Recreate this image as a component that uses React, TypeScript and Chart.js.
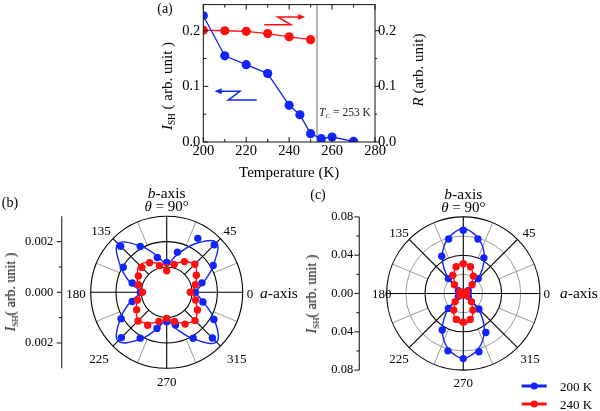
import React, { useEffect, useRef } from 'react';
import { Chart, registerables } from 'chart.js';
Chart.register(...registerables);

const FONT = "'Liberation Serif', 'Times New Roman', serif";
const BLUE = '#1024ff';
const RED = '#ff1010';

// ---------- Panel (a) data ----------
const tempISH = [200, 210, 220, 230, 240, 245, 250, 255, 260, 270];
const valueISH = [0.227, 0.155, 0.139, 0.123, 0.066, 0.049, 0.015, 0.006, 0.009, 0.001];
const tempR = [200, 210, 220, 230, 240, 250];
const valueR = [0.201, 0.200, 0.199, 0.195, 0.189, 0.184];
const TC = 253;

// ---------- Panels (b), (c) data ----------
const anglesDeg = [0, 15, 30, 45, 60, 75, 90, 105, 120, 135, 150, 165, 180, 195, 210, 225, 240, 255, 270, 285, 300, 315, 330, 345];
const fineAnglesDeg = [0, 7.5, 15, 22.5, 30, 37.5, 45, 52.5, 60, 67.5, 75, 82.5, 90, 97.5, 105, 112.5, 120, 127.5, 135, 142.5, 150, 157.5, 165, 172.5,
  180, 187.5, 195, 202.5, 210, 217.5, 225, 232.5, 240, 247.5, 255, 262.5, 270, 277.5, 285, 292.5, 300, 307.5, 315, 322.5, 330, 337.5, 345, 352.5];

const b200 = [0.00113, 0.00144, 0.00212, 0.00265, 0.00246, 0.00164, 0.00118, 0.00142, 0.00209, 0.00257, 0.00198, 0.00141,
  0.00104, 0.00141, 0.00208, 0.00253, 0.00209, 0.00148, 0.00116, 0.00134, 0.00209, 0.00255, 0.00215, 0.00148];
const b240 = [0.00093, 0.00117, 0.00135, 0.00157, 0.00140, 0.00114, 0.00085, 0.00109, 0.00135, 0.00139, 0.00129, 0.00115,
  0.00096, 0.00119, 0.00137, 0.00160, 0.00150, 0.00119, 0.00103, 0.00119, 0.00145, 0.00158, 0.00140, 0.00118];
const b200Fit = [0.00110, 0.00150, 0.00212, 0.00278, 0.00220, 0.00152, 0.00112, 0.00150, 0.00212, 0.00272, 0.00212, 0.00150,
  0.00106, 0.00150, 0.00212, 0.00272, 0.00215, 0.00150, 0.00112, 0.00150, 0.00212, 0.00278, 0.00218, 0.00150];
const b240Fit = [0.00102, 0.00118, 0.00136, 0.00157, 0.00138, 0.00118, 0.00108, 0.00118, 0.00136, 0.00152, 0.00134, 0.00118,
  0.00100, 0.00120, 0.00138, 0.00158, 0.00140, 0.00120, 0.00106, 0.00120, 0.00140, 0.00158, 0.00138, 0.00118];

const c200 = [0.002, 0.003, 0.006, 0.022, 0.043, 0.059, 0.066, 0.059, 0.045, 0.022, 0.006, 0.003,
  0.002, 0.003, 0.006, 0.022, 0.044, 0.062, 0.068, 0.063, 0.047, 0.023, 0.006, 0.003];
const c240 = [0.001, 0.002, 0.004, 0.013, 0.021, 0.029, 0.031, 0.029, 0.022, 0.013, 0.004, 0.002,
  0.001, 0.002, 0.004, 0.012, 0.020, 0.028, 0.030, 0.028, 0.020, 0.012, 0.004, 0.002];
const c200Fit = [0.0015, 0.0015, 0.0012, 0.0006, 0, 0.008, 0.021, 0.033, 0.044, 0.053, 0.060, 0.065,
  0.068, 0.065, 0.060, 0.053, 0.044, 0.033, 0.021, 0.008, 0, 0.0006, 0.0012, 0.0015,
  0.0015, 0.0015, 0.0012, 0.0006, 0, 0.008, 0.021, 0.033, 0.044, 0.053, 0.060, 0.065,
  0.068, 0.065, 0.060, 0.053, 0.044, 0.033, 0.021, 0.008, 0, 0.0006, 0.0012, 0.0015];
const c240Fit = [0.0008, 0.0008, 0.0006, 0.0003, 0, 0.004, 0.010, 0.015, 0.020, 0.025, 0.028, 0.031,
  0.032, 0.031, 0.028, 0.025, 0.020, 0.015, 0.010, 0.004, 0, 0.0003, 0.0006, 0.0008,
  0.0008, 0.0008, 0.0006, 0.0003, 0, 0.004, 0.010, 0.015, 0.020, 0.025, 0.028, 0.031,
  0.032, 0.031, 0.028, 0.025, 0.020, 0.015, 0.010, 0.004, 0, 0.0003, 0.0006, 0.0008];

const bTicks = [-0.002, 0, 0.002];
const bMinorTicks = [-0.001, 0.001];
const cTicks = [-0.08, -0.04, 0, 0.04, 0.08];
const cMinorTicks = [-0.06, -0.02, 0.02, 0.06];

const toXY = (angles: number[], rs: number[], close: boolean) => {
  const pts = rs.map((r, i) => ({ x: r * Math.cos((angles[i] * Math.PI) / 180), y: r * Math.sin((angles[i] * Math.PI) / 180) }));
  if (close) pts.push({ ...pts[0] });
  return pts;
};

function line(ctx: CanvasRenderingContext2D, x1: number, y1: number, x2: number, y2: number) {
  ctx.beginPath();
  ctx.moveTo(x1, y1);
  ctx.lineTo(x2, y2);
  ctx.stroke();
}

const noPad = (s: any) => { s.paddingTop = 0; s.paddingBottom = 0; s.paddingLeft = 0; s.paddingRight = 0; };

// ---------- Panel (a) plugin ----------
const redArrow = [[228.4, 0.2106], [240.9, 0.2106], [234.7, 0.2247], [246.5, 0.2247]];
const blueArrow = [[224.9, 0.0753], [211.6, 0.0753], [217.1, 0.0912], [206.2, 0.0912]];

const panelAPlugin = {
  id: 'panelA',
  beforeDatasetsDraw(chart: any) {
    const { ctx, chartArea: a, scales } = chart;
    const x = scales.x.getPixelForValue(TC);
    ctx.save();
    ctx.strokeStyle = '#b4b4b4';
    ctx.lineWidth = 2;
    line(ctx, x, a.top, x, a.bottom);
    ctx.restore();
  },
  afterDatasetsDraw(chart: any) {
    const { ctx, chartArea: a, scales } = chart;
    const { x, y, y2 } = scales;
    ctx.save();
    ctx.strokeStyle = '#111';
    ctx.lineWidth = 1;
    ctx.strokeRect(a.left, a.top, a.right - a.left, a.bottom - a.top);
    for (let t = 200; t <= 280; t += 10) {
      const px = x.getPixelForValue(t);
      const len = t % 20 === 0 ? 5 : 3;
      line(ctx, px, a.bottom, px, a.bottom - len);
      line(ctx, px, a.top, px, a.top + len);
    }
    for (let k = 0; k <= 4; k++) {
      const v = k * 0.05;
      const len = k % 2 === 0 ? 5 : 3;
      const py = y.getPixelForValue(v);
      line(ctx, a.left, py, a.left + len, py);
      const py2 = y2.getPixelForValue(v);
      line(ctx, a.right, py2, a.right + (k % 2 === 0 ? 4 : 2), py2);
    }
    const drawArrow = (pts: number[][], color: string) => {
      const p = pts.map(([tx, vy]) => [x.getPixelForValue(tx), y.getPixelForValue(vy)]);
      ctx.strokeStyle = color;
      ctx.fillStyle = color;
      ctx.lineWidth = 1.5;
      ctx.beginPath();
      ctx.moveTo(p[0][0], p[0][1]);
      for (let i = 1; i < p.length; i++) ctx.lineTo(p[i][0], p[i][1]);
      ctx.stroke();
      const [ex, ey] = p[p.length - 1];
      const dir = Math.sign(p[p.length - 1][0] - p[p.length - 2][0]);
      ctx.beginPath();
      ctx.moveTo(ex + dir * 2, ey);
      ctx.lineTo(ex - dir * 5, ey - 3);
      ctx.lineTo(ex - dir * 5, ey + 3);
      ctx.closePath();
      ctx.fill();
    };
    drawArrow(redArrow, RED);
    drawArrow(blueArrow, BLUE);
    ctx.restore();
  },
};

function makeA(): any {
  const tickFont = { family: FONT, size: 14.5 };
  return {
    type: 'scatter',
    data: {
      datasets: [
        {
          data: tempISH.map((t, i) => ({ x: t, y: valueISH[i] })),
          showLine: true, borderColor: BLUE, backgroundColor: BLUE, borderWidth: 1.3,
          pointRadius: 4.6, pointBorderWidth: 0, yAxisID: 'y',
        },
        {
          data: tempR.map((t, i) => ({ x: t, y: valueR[i] })),
          showLine: true, borderColor: RED, backgroundColor: RED, borderWidth: 1.3,
          pointRadius: 4.6, pointBorderWidth: 0, yAxisID: 'y2',
        },
      ],
    },
    options: {
      responsive: false,
      animation: false,
      layout: { padding: { top: 2, left: 0, right: 0, bottom: 0 } },
      plugins: { legend: { display: false }, tooltip: { enabled: false } },
      scales: {
        x: {
          type: 'linear', min: 200, max: 280,
          ticks: { stepSize: 20, font: tickFont, color: '#000', padding: 0, maxRotation: 0 },
          grid: { display: false, drawTicks: false }, border: { display: false },
          title: { display: true, text: 'Temperature (K)', font: { family: FONT, size: 15 }, color: '#000', padding: { top: 0, bottom: 8 } },
          afterFit: (s: any) => { s.height = 48; noPad(s); },
        },
        y: {
          position: 'left', min: 0, max: 0.247,
          ticks: { stepSize: 0.1, includeBounds: false, font: tickFont, color: '#000', padding: 3, callback: (v: any) => Number(v).toFixed(1) },
          grid: { display: false, drawTicks: false }, border: { display: false },
          afterFit: (s: any) => { s.width = 203.3; noPad(s); },
        },
        y2: {
          position: 'right', min: 0, max: 0.247,
          ticks: { stepSize: 0.1, includeBounds: false, font: tickFont, color: '#000', padding: 3, callback: (v: any) => Number(v).toFixed(1) },
          grid: { display: false, drawTicks: false }, border: { display: false },
          afterFit: (s: any) => { s.width = 225; noPad(s); },
        },
      },
    },
    plugins: [panelAPlugin],
  };
}

// ---------- Polar panels ----------
type PolarCfg = {
  R: number;
  rings: { r: number; color: string }[];
  blackSpokeFrom: number;
  graySpokeFrom: number;
  axisOffset: number;
  majors: number[];
  minors: number[];
  legend?: boolean;
};

function polarPlugin(cfg: PolarCfg) {
  return {
    id: 'polarGrid',
    beforeDatasetsDraw(chart: any) {
      const { ctx, scales: { x, y } } = chart;
      const cx = x.getPixelForValue(0);
      const cy = y.getPixelForValue(0);
      const px = (r: number) => x.getPixelForValue(r) - cx;
      ctx.save();
      ctx.lineWidth = 1;
      ctx.strokeStyle = '#9a9a9a';
      for (let a = 22.5; a < 360; a += 45) {
        const t = (a * Math.PI) / 180;
        const r0 = px(cfg.graySpokeFrom), r1 = px(cfg.R);
        line(ctx, cx + r0 * Math.cos(t), cy - r0 * Math.sin(t), cx + r1 * Math.cos(t), cy - r1 * Math.sin(t));
      }
      for (const ring of cfg.rings) {
        ctx.strokeStyle = ring.color;
        ctx.lineWidth = ring.color === '#000' ? 1.1 : 1;
        ctx.beginPath();
        ctx.arc(cx, cy, px(ring.r), 0, Math.PI * 2);
        ctx.stroke();
      }
      ctx.strokeStyle = '#000';
      ctx.lineWidth = 1.1;
      for (let a = 0; a < 360; a += 45) {
        const t = (a * Math.PI) / 180;
        const r0 = px(cfg.blackSpokeFrom), r1 = px(cfg.R);
        line(ctx, cx + r0 * Math.cos(t), cy - r0 * Math.sin(t), cx + r1 * Math.cos(t), cy - r1 * Math.sin(t));
      }
      ctx.restore();
    },
    afterDraw(chart: any) {
      const { ctx, chartArea: a, scales: { y } } = chart;
      const ax = a.left - cfg.axisOffset;
      ctx.save();
      ctx.strokeStyle = '#333';
      ctx.lineWidth = 1.2;
      line(ctx, ax, y.getPixelForValue(cfg.R), ax, y.getPixelForValue(-cfg.R));
      for (const v of cfg.majors) { const py = y.getPixelForValue(v); line(ctx, ax, py, ax - 5, py); }
      for (const v of cfg.minors) { const py = y.getPixelForValue(v); line(ctx, ax, py, ax - 3, py); }
      if (cfg.legend) {
        const items = [{ c: BLUE, yy: 196 }, { c: RED, yy: 214 }];
        for (const it of items) {
          ctx.strokeStyle = it.c;
          ctx.fillStyle = it.c;
          ctx.lineWidth = 3;
          line(ctx, 221.7, it.yy, 246.7, it.yy);
          ctx.beginPath();
          ctx.arc(234.2, it.yy, 3.6, 0, Math.PI * 2);
          ctx.fill();
        }
      }
      ctx.restore();
    },
  };
}

function makePolar(opts: {
  cfg: PolarCfg; fit200: any[]; pts200: any[]; fit240: any[]; pts240: any[];
  pad: { left: number; right: number; top: number; bottom: number }; axisWidth: number; labelPad: number; decimals: number;
}): any {
  const { cfg } = opts;
  const common = { showLine: true, pointRadius: 0, borderWidth: 1.4, tension: 0.4 };
  return {
    type: 'scatter',
    data: {
      datasets: [
        { ...common, data: opts.fit240, borderColor: RED, backgroundColor: RED },
        { data: opts.pts240, showLine: false, pointRadius: 3.7, pointBorderWidth: 0, backgroundColor: RED, borderColor: RED },
        { ...common, data: opts.fit200, borderColor: BLUE, backgroundColor: BLUE },
        { data: opts.pts200, showLine: false, pointRadius: 3.7, pointBorderWidth: 0, backgroundColor: BLUE, borderColor: BLUE },
      ],
    },
    options: {
      responsive: false,
      animation: false,
      layout: { padding: { left: 0, right: opts.pad.right, top: opts.pad.top, bottom: opts.pad.bottom } },
      plugins: { legend: { display: false }, tooltip: { enabled: false } },
      scales: {
        x: { type: 'linear', min: -cfg.R, max: cfg.R, display: false, afterFit: noPad },
        y: {
          type: 'linear', min: -cfg.R, max: cfg.R,
          afterBuildTicks: (s: any) => { s.ticks = cfg.majors.map((v) => ({ value: v })); },
          ticks: { font: { family: FONT, size: 12.5 }, color: '#000', padding: opts.labelPad, callback: (v: any) => Math.abs(Number(v)).toFixed(opts.decimals) },
          grid: { display: false, drawTicks: false }, border: { display: false },
          afterFit: (s: any) => { s.width = opts.axisWidth; noPad(s); },
        },
      },
    },
    plugins: [polarPlugin(cfg)],
  };
}

function makeB(): any {
  return makePolar({
    cfg: {
      R: 0.003,
      rings: [{ r: 0.001, color: '#000' }, { r: 0.002, color: '#000' }, { r: 0.003, color: '#000' }],
      blackSpokeFrom: 0.001, graySpokeFrom: 0.002, axisOffset: 29,
      majors: bTicks, minors: bMinorTicks,
    },
    fit200: toXY(anglesDeg, b200Fit, true),
    pts200: toXY(anglesDeg, b200, false),
    fit240: toXY(anglesDeg, b240Fit, true),
    pts240: toXY(anglesDeg, b240, false),
    pad: { left: 0, right: 57.3, top: 26.3, bottom: 42.7 },
    axisWidth: 90.7, labelPad: 37.5, decimals: 3,
  });
}

function makeC(): any {
  return makePolar({
    cfg: {
      R: 0.08,
      rings: [{ r: 0.02, color: '#9a9a9a' }, { r: 0.06, color: '#9a9a9a' }, { r: 0.04, color: '#000' }, { r: 0.08, color: '#000' }],
      blackSpokeFrom: 0, graySpokeFrom: 0.04, axisOffset: 27.4,
      majors: cTicks, minors: cMinorTicks, legend: true,
    },
    fit200: toXY(fineAnglesDeg, c200Fit, true),
    pts200: toXY(anglesDeg, c200, false),
    fit240: toXY(fineAnglesDeg, c240Fit, true),
    pts240: toXY(anglesDeg, c240, false),
    pad: { left: 0, right: 60.1, top: 26.9, bottom: 40.9 },
    axisWidth: 86.7, labelPad: 33.5, decimals: 2,
  });
}

function ChartBox({ left, top, width, height, make }: { left: number; top: number; width: number; height: number; make: () => any }) {
  const ref = useRef<HTMLCanvasElement>(null);
  useEffect(() => {
    const chart = new Chart(ref.current as HTMLCanvasElement, make());
    return () => chart.destroy();
  }, []);
  return <canvas ref={ref} width={width} height={height} style={{ position: 'absolute', left, top, width, height }} />;
}

function T({ x, y, size = 13, rot = 0, align = 'center', children, color = '#000' }: any) {
  return (
    <div
      style={{
        position: 'absolute', left: x, top: y,
        transform: `translate(${align === 'left' ? '0' : '-50%'}, -50%) rotate(${rot}deg)`,
        fontFamily: FONT, fontSize: size, lineHeight: 1, whiteSpace: 'nowrap', color,
      }}
    >
      {children}
    </div>
  );
}

const subStyle: React.CSSProperties = { fontSize: '0.62em', verticalAlign: 'baseline', position: 'relative', top: '0.3em' };

const ISH = () => (
  <>
    <i>I</i>
    <span style={subStyle}>SH</span>
  </>
);

export default function App() {
  return (
    <div style={{ position: 'fixed', left: 0, top: 0, width: 600, height: 411, background: '#fff', overflow: 'hidden' }}>
      <ChartBox left={0} top={0} width={600} height={190} make={makeA} />
      <ChartBox left={0} top={190} width={300} height={221} make={makeB} />
      <ChartBox left={300} top={190} width={300} height={221} make={makeC} />

      {/* Panel (a) labels */}
      <T x={165} y={9} size={14}>(a)</T>
      <T x={167} y={86} size={15} rot={-90}><ISH /> ( arb. unit )</T>
      <T x={418} y={70} size={15} rot={-90}><i>R</i> (arb. unit)</T>
      <T x={319} y={113} size={11.5} align="left" color="#222"><i>T</i><span style={subStyle}><i>C</i></span> = 253 K</T>

      {/* Panel (b) labels */}
      <T x={10} y={203} size={14}>(b)</T>
      <T x={166.7} y={193} size={15.5}><i>b</i>-axis</T>
      <T x={166.7} y={205.5} size={15}><i>θ</i> = 90°</T>
      <T x={101} y={230} size={13}>135</T>
      <T x={230} y={230} size={13}>45</T>
      <T x={76} y={292.7} size={13}>180</T>
      <T x={250} y={292.7} size={13}>0</T>
      <T x={260} y={292.7} size={15.5} align="left"><i>a</i>-axis</T>
      <T x={99} y={357.7} size={13}>225</T>
      <T x={236.7} y={357.7} size={13}>315</T>
      <T x={166.7} y={380.7} size={13}>270</T>
      <T x={11} y={292} size={14} rot={-90}><ISH />( arb. unit )</T>

      {/* Panel (c) labels */}
      <T x={318} y={195} size={14}>(c)</T>
      <T x={463.3} y={194} size={15.5}><i>b</i>-axis</T>
      <T x={463.3} y={206.5} size={15}><i>θ</i> = 90°</T>
      <T x={399} y={231.7} size={13}>135</T>
      <T x={529} y={231.7} size={13}>45</T>
      <T x={381.7} y={293.3} size={13}>180</T>
      <T x={546.7} y={293.3} size={13}>0</T>
      <T x={560} y={293.3} size={15.5} align="left"><i>a</i>-axis</T>
      <T x={399} y={358.3} size={13}>225</T>
      <T x={530} y={358.3} size={13}>315</T>
      <T x={463.3} y={381.7} size={13}>270</T>
      <T x={312} y={294} size={14} rot={-90}><ISH />( arb. unit )</T>

      {/* Legend text */}
      <T x={560} y={386} size={13} align="left">200 K</T>
      <T x={560} y={404} size={13} align="left">240 K</T>
    </div>
  );
}
